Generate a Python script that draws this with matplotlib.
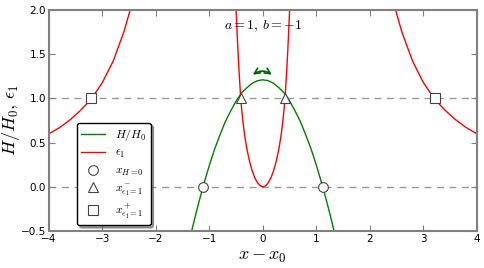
import matplotlib
matplotlib.use("Agg")
import matplotlib.pyplot as plt

plt.rcParams["mathtext.fontset"] = "cm"

# H/H0
h_x = [-1.35, -1.3, -1.2, -1.1, -1.0, -0.9, -0.8, -0.7, -0.6, -0.5, -0.4, -0.3, -0.2, -0.1, 0.0,
       0.1, 0.2, 0.3, 0.4, 0.5, 0.6, 0.7, 0.8, 0.9, 1.0, 1.1, 1.2, 1.3, 1.35]
h_y = [-0.55, -0.42, -0.18, 0.04, 0.245, 0.43, 0.59, 0.74, 0.86, 0.97, 1.06, 1.12, 1.17, 1.20, 1.21,
       1.20, 1.17, 1.12, 1.06, 0.97, 0.86, 0.74, 0.59, 0.43, 0.245, 0.04, -0.18, -0.42, -0.55]

# epsilon_1, central branch
eps_mid_x = [-0.52, -0.5, -0.48, -0.46, -0.44, -0.42, -0.4, -0.37, -0.34, -0.3, -0.25, -0.2, -0.15, -0.1, -0.05, 0.0,
             0.05, 0.1, 0.15, 0.2, 0.25, 0.3, 0.34, 0.37, 0.4, 0.42, 0.44, 0.46, 0.48, 0.5, 0.52]
eps_mid_y = [2.3, 2.0, 1.72, 1.47, 1.25, 1.06, 0.9, 0.72, 0.58, 0.43, 0.29, 0.18, 0.1, 0.045, 0.011, 0.0,
             0.011, 0.045, 0.1, 0.18, 0.29, 0.43, 0.58, 0.72, 0.9, 1.06, 1.25, 1.47, 1.72, 2.0, 2.3]

# epsilon_1, outer branches
eps_left_x = [-4.0, -3.8, -3.6, -3.4, -3.2, -3.0, -2.8, -2.6, -2.5, -2.45]
eps_left_y = [0.6, 0.67, 0.76, 0.87, 1.0, 1.18, 1.42, 1.75, 1.96, 2.08]
eps_right_x = [2.45, 2.5, 2.6, 2.8, 3.0, 3.2, 3.4, 3.6, 3.8, 4.0]
eps_right_y = [2.08, 1.96, 1.75, 1.42, 1.18, 1.0, 0.87, 0.76, 0.67, 0.6]

# special points
x_h0 = [-1.12, 1.12]
x_eps_minus = [-0.41, 0.41]
x_eps_plus = [-3.21, 3.21]

fig = plt.figure(figsize=(4.85, 2.68), dpi=100)
ax = fig.add_axes([0.101, 0.138, 0.882, 0.825])

ax.axhline(0, color="gray", ls="--", lw=1, dashes=(5, 4), alpha=0.8)
ax.axhline(1, color="gray", ls="--", lw=1, dashes=(5, 4), alpha=0.8)

ax.plot(h_x, h_y, color="green", lw=1, label=r"$H/H_0$")
ax.plot(eps_mid_x, eps_mid_y, color="red", lw=1, label=r"$\epsilon_1$")
ax.plot(eps_left_x, eps_left_y, color="red", lw=1)
ax.plot(eps_right_x, eps_right_y, color="red", lw=1)

mk = dict(ls="none", mfc="white", mec="#444444", mew=0.8, ms=7, zorder=5)
ax.plot(x_h0, [0, 0], marker="o", label=r"$x_{H=0}$", **mk)
ax.plot(x_eps_minus, [1, 1], marker="^", label=r"$x^-_{\epsilon_1=1}$", **mk)
ax.plot(x_eps_plus, [1, 1], marker="s", label=r"$x^+_{\epsilon_1=1}$", **mk)

ax.annotate("", xy=(0.21, 1.25), xytext=(-0.23, 1.25),
            arrowprops=dict(arrowstyle="<->", color="darkgreen", lw=1.2,
                            connectionstyle="arc3,rad=-0.4"))
ax.text(0, 1.81, r"$a=1,\, b=-1$", ha="center", va="center", fontsize=10)

ax.set_xlim(-4, 4)
ax.set_ylim(-0.5, 2.0)
ax.set_xlabel(r"$x - x_0$", fontsize=13, labelpad=2)
ax.set_ylabel(r"$H/H_0,\, \epsilon_1$", fontsize=13)
ax.yaxis.set_label_coords(-0.062, 0.5)

for s in ax.spines.values():
    s.set_color("gray")
    s.set_linewidth(1.5)
ax.tick_params(direction="in", top=True, right=True, color="gray", labelsize=7.5, length=4, pad=2)

leg = ax.legend(loc="upper left", bbox_to_anchor=(0.065, 0.49), fontsize=8.5, shadow=True,
                fancybox=True, numpoints=1, borderpad=0.35, labelspacing=0.3,
                handlelength=2.0, handletextpad=0.9, borderaxespad=0)
leg.get_frame().set_edgecolor("black")

fig.savefig("out.png", dpi=100)
